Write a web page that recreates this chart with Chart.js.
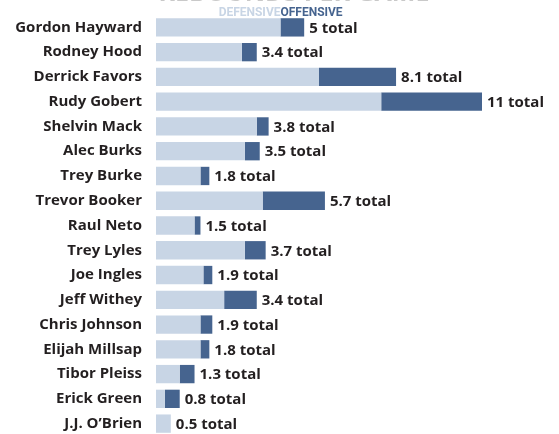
<!DOCTYPE html>
<html>
<head>
<meta charset="utf-8">
<script src="https://cdn.jsdelivr.net/npm/chart.js@4"></script>
<style>
  html, body { margin: 0; padding: 0; background: #fff; overflow: hidden; }
  #wrap { width: 559px; height: 451px; position: relative; }
</style>
</head>
<body>
<div id="wrap"><canvas id="reboundsChart"></canvas></div>
<script>
// Rebounds per game, Utah Jazz
const players = ['Gordon Hayward', 'Rodney Hood', 'Derrick Favors', 'Rudy Gobert', 'Shelvin Mack',
  'Alec Burks', 'Trey Burke', 'Trevor Booker', 'Raul Neto', 'Trey Lyles', 'Joe Ingles',
  'Jeff Withey', 'Chris Johnson', 'Elijah Millsap', 'Tibor Pleiss', 'Erick Green', 'J.J. O’Brien'];
const defensive = [4.2, 2.9, 5.5, 7.6, 3.4, 3.0, 1.5, 3.6, 1.3, 3.0, 1.6, 2.3, 1.5, 1.5, 0.8, 0.3, 0.5];
const offensive = [0.8, 0.5, 2.6, 3.4, 0.4, 0.5, 0.3, 2.1, 0.2, 0.7, 0.3, 1.1, 0.4, 0.3, 0.5, 0.5, 0.0];
const totals = ['5', '3.4', '8.1', '11', '3.8', '3.5', '1.8', '5.7', '1.5', '3.7', '1.9', '3.4', '1.9', '1.8', '1.3', '0.8', '0.5'];

const LIGHT = '#c8d5e5';
const DARK = '#46648f';
const TEXT = '#231f20';

// title, legend words and "x total" labels
const annotations = {
  id: 'annotations',
  afterDatasetsDraw(chart) {
    const { ctx, scales } = chart;
    const x = scales.x, y = scales.y;
    ctx.save();

    ctx.font = 'bold 25px "Open Sans"';
    ctx.fillStyle = '#c9c9c9';
    ctx.textAlign = 'center';
    ctx.textBaseline = 'alphabetic';
    ctx.fillText('REBOUNDS PER GAME', 294, 1);

    const split = x.getPixelForValue(defensive[0]);
    ctx.font = 'bold 12px Roboto';
    ctx.textAlign = 'right';
    ctx.fillStyle = LIGHT;
    ctx.fillText('DEFENSIVE', split, 16);
    ctx.textAlign = 'left';
    ctx.fillStyle = DARK;
    ctx.fillText('OFFENSIVE', split, 16);

    ctx.font = 'bold 15px "Open Sans"';
    ctx.fillStyle = TEXT;
    ctx.textBaseline = 'middle';
    players.forEach((p, i) => {
      const end = x.getPixelForValue(defensive[i] + offensive[i]);
      ctx.fillText(totals[i] + ' total', end + 5, y.getPixelForValue(i) + 1);
    });
    ctx.restore();
  }
};

new Chart(document.getElementById('reboundsChart'), {
  type: 'bar',
  data: {
    labels: players,
    datasets: [{
      label: 'Defensive',
      data: defensive,
      backgroundColor: LIGHT,
      borderWidth: 0,
      barPercentage: 0.74,
      categoryPercentage: 1
    }, {
      label: 'Offensive',
      data: offensive,
      backgroundColor: DARK,
      borderWidth: 0,
      barPercentage: 0.74,
      categoryPercentage: 1
    }]
  },
  options: {
    indexAxis: 'y',
    responsive: true,
    maintainAspectRatio: false,
    animation: false,
    layout: {
      padding: { top: 12, right: 77, bottom: 0, left: 0 }
    },
    plugins: {
      legend: { display: false },
      tooltip: { enabled: false }
    },
    scales: {
      x: {
        stacked: true,
        min: 0,
        max: 11,
        display: false
      },
      y: {
        stacked: true,
        grid: { display: false },
        border: { display: false },
        afterFit: function(scale) {
          scale.width = 156;
        },
        ticks: {
          color: TEXT,
          padding: 6,
          font: { family: 'Open Sans', weight: 'bold', size: 15 }
        }
      }
    }
  },
  plugins: [annotations]
});
</script>
</body>
</html>
